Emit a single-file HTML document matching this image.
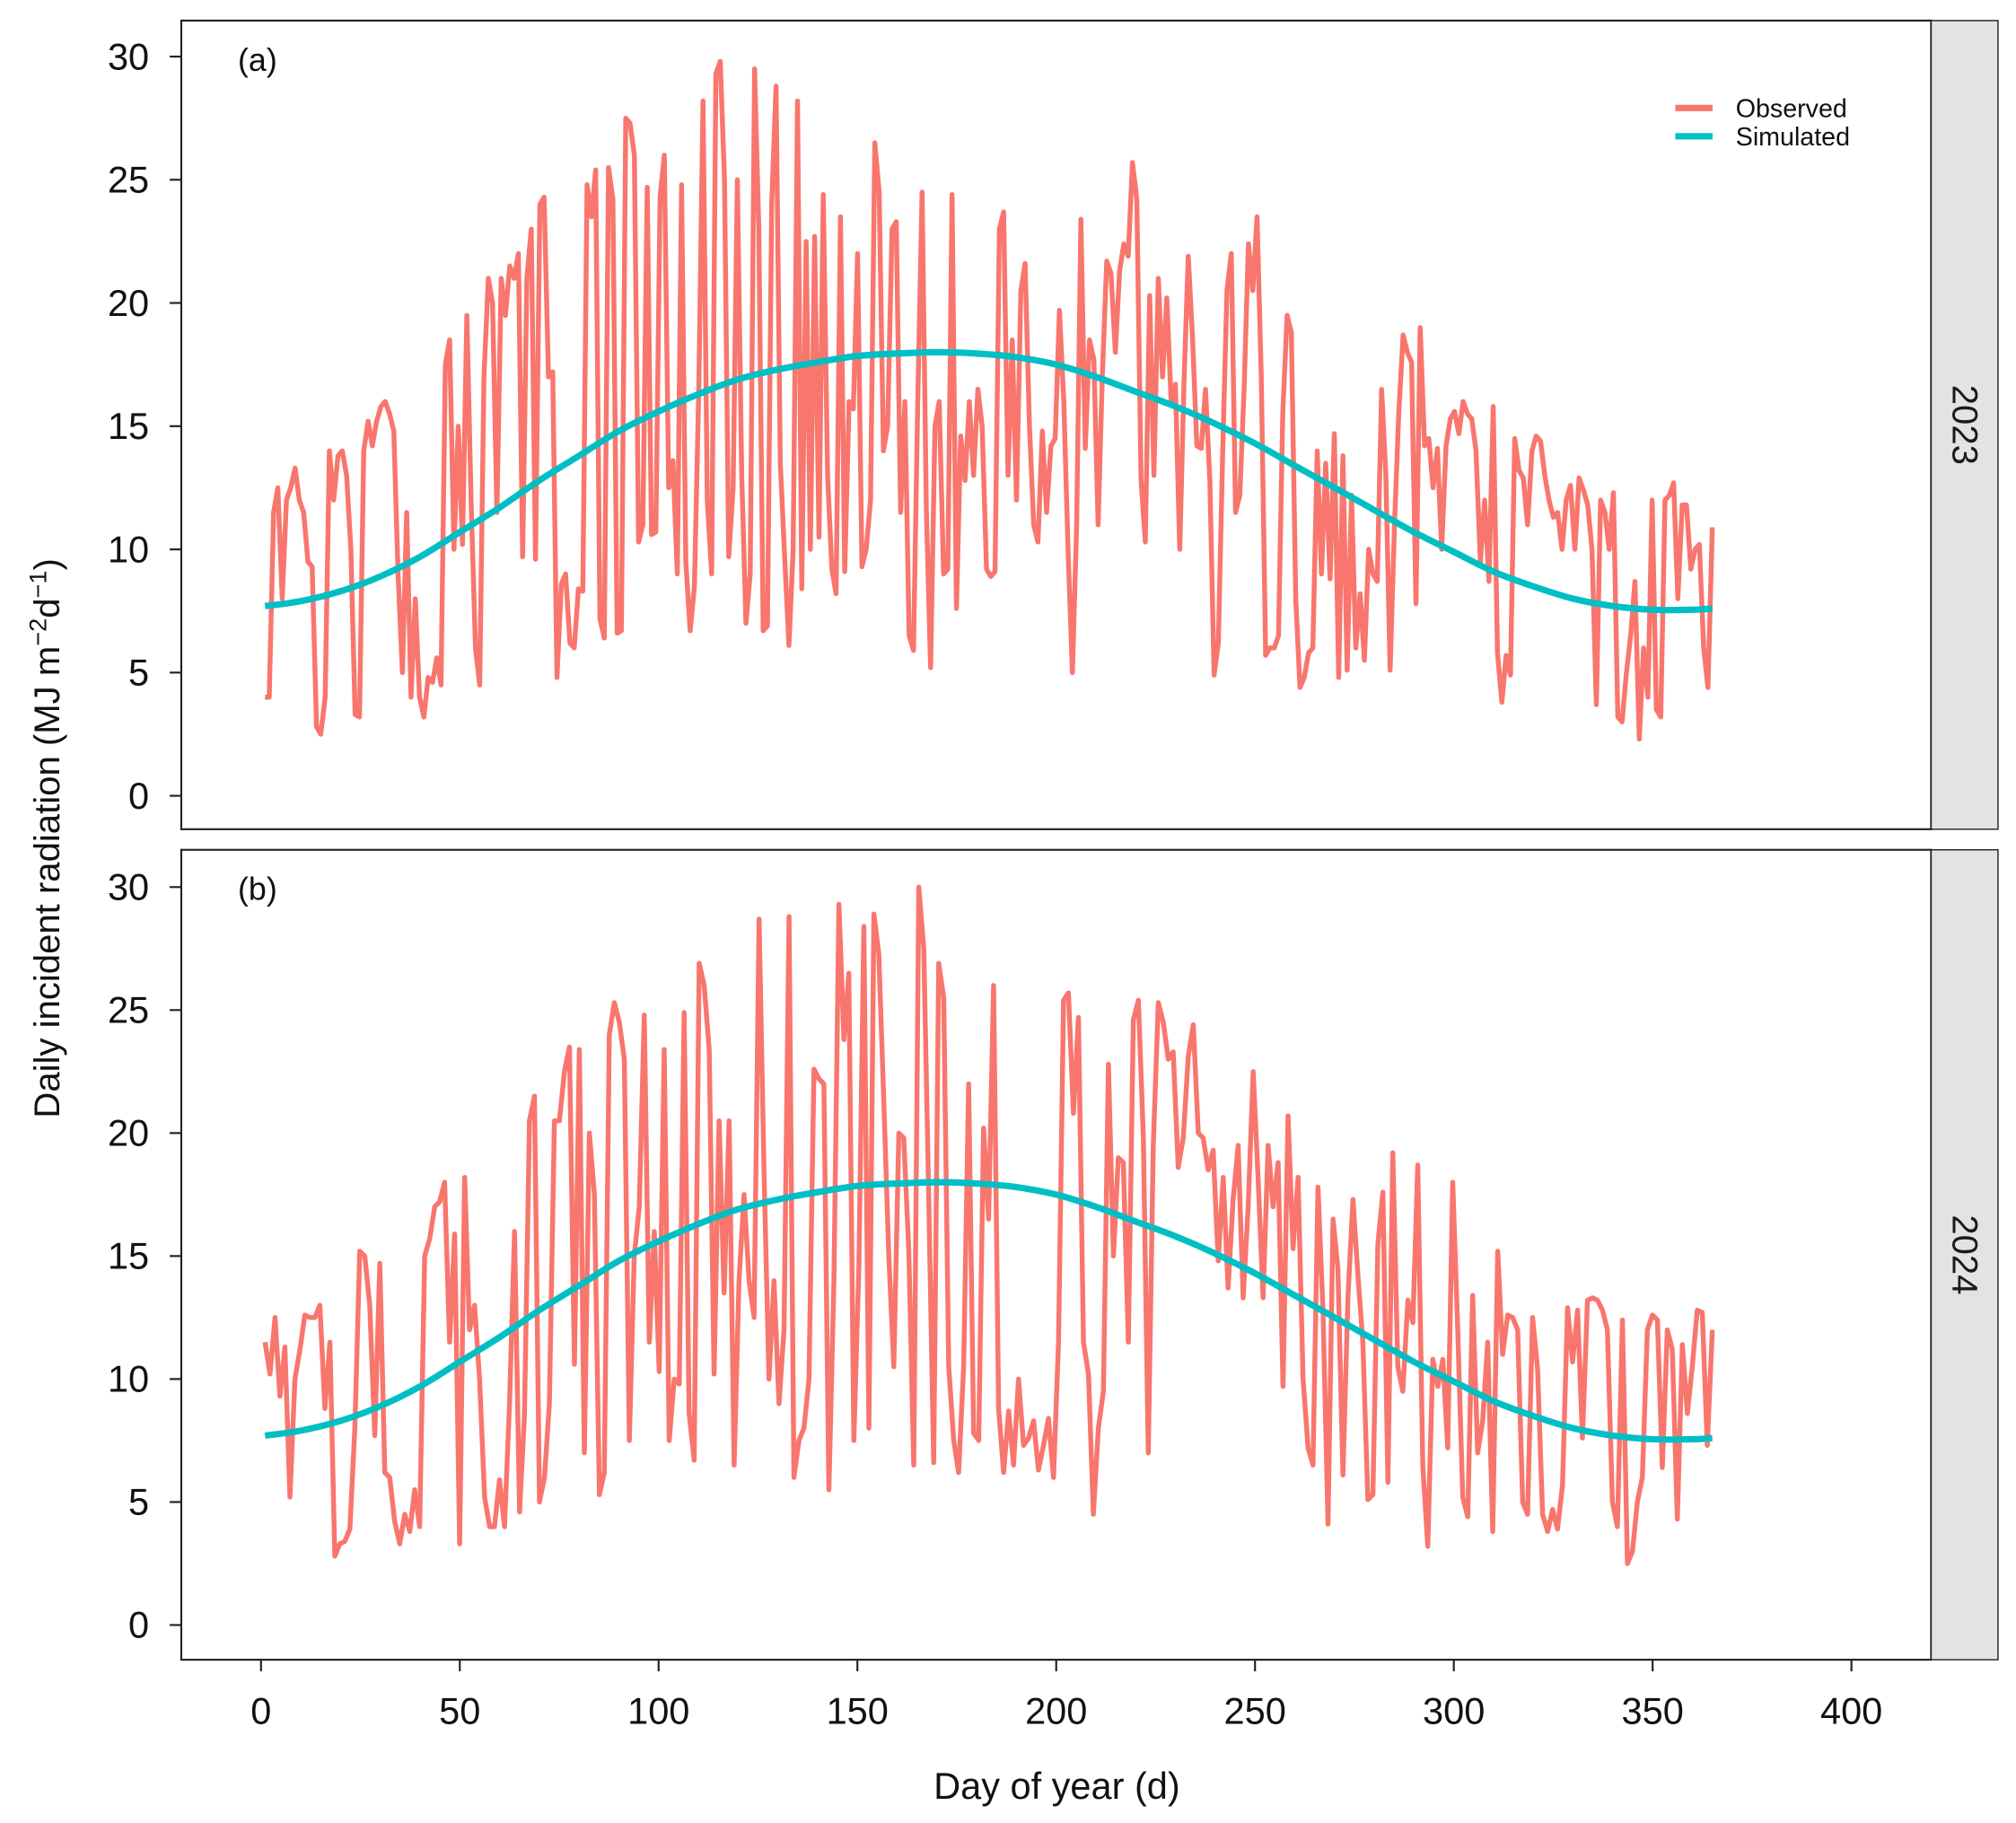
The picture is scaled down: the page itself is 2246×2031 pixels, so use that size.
<!DOCTYPE html>
<html><head><meta charset="utf-8"><style>
html,body{margin:0;padding:0;background:#fff}
svg{display:block;font-family:"Liberation Sans",Arial,sans-serif}
</style></head><body>
<svg id="chart" width="2246" height="2031" viewBox="0 0 1568 1418" preserveAspectRatio="none" xmlns="http://www.w3.org/2000/svg">
<g id="root"></g>
</svg>
<script>
const obs2023 = [4,4,11.5,12.5,8,12,12.5,13.3,12,11.5,9.5,9.3,2.8,2.5,4,14,12,13.8,14,13,10,3.3,3.2,14,15.2,14.2,15.2,15.8,16,15.5,14.8,9,5,11.5,4,8,4,3.2,4.8,4.6,5.6,4.5,17.5,18.5,10,15,10.2,19.5,12,6,4.5,17,21,20,11.5,21,19.5,21.5,21,22,9.7,21,23,9.6,24,24.3,17,17.2,4.8,8.6,9,6.2,6,8.4,8.3,24.8,23.5,25.4,7.2,6.4,25.5,24.2,6.6,6.7,27.5,27.3,26,10.3,11,24.7,10.6,10.7,24.3,26,12.5,13.6,9,24.8,9.5,6.7,8.5,16.5,28.2,12,9,29.3,29.8,25,9.7,12.5,25,13,7,9,29.5,23,6.7,6.9,24,28.8,13.5,9.7,6.1,10,28.2,8.4,22.5,10,22.7,10.5,24.4,13,9.2,8.2,23.5,9.1,16,15.7,22,9.3,10,12,26.5,24.5,14,15,23,23.3,11.5,16,6.5,5.9,16,24.5,11.6,5.2,15,16,9,9.2,24.4,7.6,14.6,12.8,16,13,16.5,15,9.2,8.9,9.1,23,23.7,13,18.5,12,20.5,21.6,15,11,10.3,14.8,11.5,14.2,14.5,19.7,16,10,5,11,23.4,14.1,18.5,17.7,11,17.1,21.7,21.2,18,21.3,22.4,21.9,25.7,24.2,12.8,10.3,20.3,13,21,17,20.2,16,16.7,10,16.8,21.9,18.5,14.2,14.1,16.5,12.8,4.9,6.2,14,20.5,22,11.5,12.2,16.6,22.4,20.5,23.5,17,5.7,6,6,6.5,15.5,19.5,18.8,8,4.4,4.8,5.8,6,14,9,13.5,8.8,14.7,4.8,13.8,5.1,12.2,6,8.2,5.5,10,9,8.7,16.5,13,5.1,11,15.5,18.7,18,17.6,7.8,19,14.2,14.5,12.5,14.1,10,14.2,15.3,15.6,14.7,16,15.5,15.3,14,9.5,12,8.7,15.8,5.8,3.8,5.7,4.9,14.5,13.2,12.9,11,14,14.6,14.4,13,12,11.3,11.5,10,12,12.6,10,12.9,12.4,11.8,10,3.7,12,11.5,10,12.3,3.2,3,5,6.5,8.7,2.3,6,4,12,3.5,3.2,12,12.2,12.7,8,11.8,11.8,9.2,10,10.2,6,4.4,10.9];
const obs2024 = [11.5,10.2,12.5,9.3,11.3,5.2,10,11.2,12.6,12.5,12.5,13,8.8,11.5,2.8,3.3,3.4,3.9,8,15.2,15,13,7.7,14.7,6.2,6,4.2,3.3,4.5,3.8,5.5,4,15,15.7,17,17.2,18,11.5,15.9,3.3,18.2,12,13,10,5.2,4,4,5.9,4,9,16,4.6,8.5,20.5,21.5,5,6,9,20.5,20.5,22.5,23.5,10.6,23.4,7,20,17.5,5.3,6.2,24,25.3,24.5,23,7.5,15,17,24.8,11.5,16,10.3,23.4,7.5,10,9.8,24.9,8.6,6.7,26.9,26,23.4,10.2,20.5,13.5,20.5,6.5,14,17.5,14,12.5,28.7,18.3,10,14,9,12,28.8,6,7.5,8,10,22.6,22.2,22,5.5,14,29.3,23.8,26.5,7.5,14.5,28.4,8,28.9,27.3,21.3,15,10.5,20,19.8,15.3,6.5,30,27.5,17.5,6.6,26.9,25.5,10.5,7.5,6.2,10.5,22,7.8,7.5,20.2,16.5,26,8.8,6.2,8.7,6.5,10,7.3,7.6,8.3,6.3,7.3,8.4,6,11.5,25.4,25.7,20.8,24.7,11.5,10.2,4.5,8,9.5,22.8,15,19,18.8,11.5,24.6,25.4,19.8,7,19.5,25.3,24.5,23,23.3,18.6,19.8,23.1,24.4,20,19.8,18.5,19.3,14.8,18.2,13.7,17.3,19.5,13.3,17,22.5,18.2,13.3,19.5,17,18.8,9.7,20.7,15.3,18.2,10,7.2,6.5,17.8,12.8,4.1,16.5,14.5,6.1,13.3,17.3,14.2,11.5,5.1,5.3,15.5,17.6,5.8,19.2,10.5,9.5,13.2,12.3,18.7,6.5,3.2,10.8,9.7,10.8,7.2,18,12,5.2,4.4,13.4,7,8.3,11.5,3.8,15.2,11,12.6,12.5,12,5,4.5,12.5,10.4,4.5,3.8,4.7,3.9,5.7,12.9,10.7,12.8,7.6,13.2,13.3,13.2,12.8,12,5,4,12.4,2.5,3,5,6,12,12.6,12.4,6.4,12,11.2,4.3,11.4,8.6,10.5,12.8,12.7,7.3,12];
const simDays = [1,10,20,30,40,50,60,70,80,90,100,110,120,130,140,150,160,170,180,190,200,210,220,230,240,250,260,270,280,290,300,310,320,330,340,350,360,365];
const simVals = [7.7,7.9,8.3,8.9,9.7,10.7,11.7,12.8,13.8,14.8,15.6,16.3,16.9,17.3,17.6,17.85,17.95,18.0,17.95,17.8,17.5,17.0,16.4,15.8,15.1,14.3,13.4,12.5,11.6,10.7,9.9,9.1,8.5,8.0,7.7,7.55,7.55,7.6];
const yTicks = [0,5,10,15,20,25,30];
const xTicks = [0,50,100,150,200,250,300,350,400];
const years = ["2023","2024"];
const panelLabels = ["(a)","(b)"];

const NS="http://www.w3.org/2000/svg";
const root=document.getElementById('root');
function mk(tag,attrs,parent){const e=document.createElementNS(NS,tag);for(const k in attrs)e.setAttribute(k,attrs[k]);(parent||root).appendChild(e);return e;}
function smooth(pts){let d='M'+pts[0][0].toFixed(1)+','+pts[0][1].toFixed(1);for(let i=0;i<pts.length-1;i++){const p0=pts[Math.max(0,i-1)],p1=pts[i],p2=pts[i+1],p3=pts[Math.min(pts.length-1,i+2)];const c1=[p1[0]+(p2[0]-p0[0])/6,p1[1]+(p2[1]-p0[1])/6],c2=[p2[0]-(p3[0]-p1[0])/6,p2[1]-(p3[1]-p1[1])/6];d+=` C${c1[0].toFixed(1)},${c1[1].toFixed(1)} ${c2[0].toFixed(1)},${c2[1].toFixed(1)} ${p2[0].toFixed(1)},${p2[1].toFixed(1)}`;}return d;}
const L=141,R=1502;
const xs=d=>203+d*(1440-203)/400;
const panels=[{top:16,bot:645,y0:619,y30:44,obs:obs2023},{top:661,bot:1291,y0:1264,y30:690,obs:obs2024}];
panels.forEach((p,pi)=>{
  const ys=v=>p.y0+(p.y30-p.y0)*v/30;
  const g=mk('g',{});
  
  
  const frame=mk('rect',{x:L,y:p.top,width:R-L,height:p.bot-p.top,fill:'#fff',stroke:'#222','stroke-width':1.5},g);
  
  
  const strip=mk('rect',{x:R,y:p.top,width:52,height:p.bot-p.top,fill:'#e3e3e3',stroke:'#222','stroke-width':1},g);
  
  
  const cy=(p.top+p.bot)/2;
  const st=mk('text',{x:1528,y:cy,'font-size':28,'text-anchor':'middle','dominant-baseline':'central',transform:`rotate(90 1528 ${cy})`,fill:'#1a1a1a'},g);
  st.textContent=years[pi];
  
  
  yTicks.forEach(t=>{
    const y=ys(t);
    const tk=mk('line',{x1:132,x2:L,y1:y,y2:y,stroke:'#222','stroke-width':1.5},g);
    
    
    const tl=mk('text',{x:116,y:y+10,'font-size':29,'text-anchor':'end',fill:'#111'},g);
    tl.textContent=t;
    
    
  });
  const pl=mk('text',{x:185,y:p.top+39,'font-size':25,fill:'#111'},g);
  pl.textContent=panelLabels[pi];
  
  
  const n=p.obs.length;
  const pts=p.obs.map((v,i)=>xs(1+i*364/(n-1)).toFixed(1)+','+ys(v).toFixed(1)).join(' ');
  const ol=mk('polyline',{points:pts,fill:'none',stroke:'#F8766D','stroke-width':3.8,'stroke-linejoin':'round'},g);
  
  
  const sp=simDays.map((d,i)=>[xs(d),ys(simVals[i])]);
  const sl=mk('path',{d:smooth(sp),fill:'none',stroke:'#00BFC4','stroke-width':5,'stroke-linejoin':'round'},g);
  
  
});
xTicks.forEach(t=>{
  const x=xs(t);
  const tk=mk('line',{x1:x,x2:x,y1:1291,y2:1300,stroke:'#222','stroke-width':1.5});
  
  
  const tl=mk('text',{x:x,y:1341,'font-size':29,'text-anchor':'middle',fill:'#111'});
  tl.textContent=t;
  
  
});
const xt=mk('text',{x:822,y:1399,'font-size':29,'text-anchor':'middle',fill:'#111'});
xt.textContent='Day of year (d)';


const yt=mk('text',{x:0,y:0,'font-size':28,'text-anchor':'middle',fill:'#111',transform:'translate(46 652) rotate(-90)'});
yt.innerHTML='Daily incident radiation (MJ m<tspan dy="-10" font-size="19">−2</tspan><tspan dy="10">d</tspan><tspan dy="-10" font-size="19">−1</tspan><tspan dy="10">)</tspan>';


const leg=mk('g',{});


[['Observed','#F8766D',84],['Simulated','#00BFC4',106]].forEach(([lab,c,y])=>{
  const ln=mk('line',{x1:1303,x2:1332,y1:y,y2:y,stroke:c,'stroke-width':5},leg);
  
  
  const tx=mk('text',{x:1350,y:y+7,'font-size':20,fill:'#111'},leg);
  tx.textContent=lab;
  
  
});
</script>
</body></html>
